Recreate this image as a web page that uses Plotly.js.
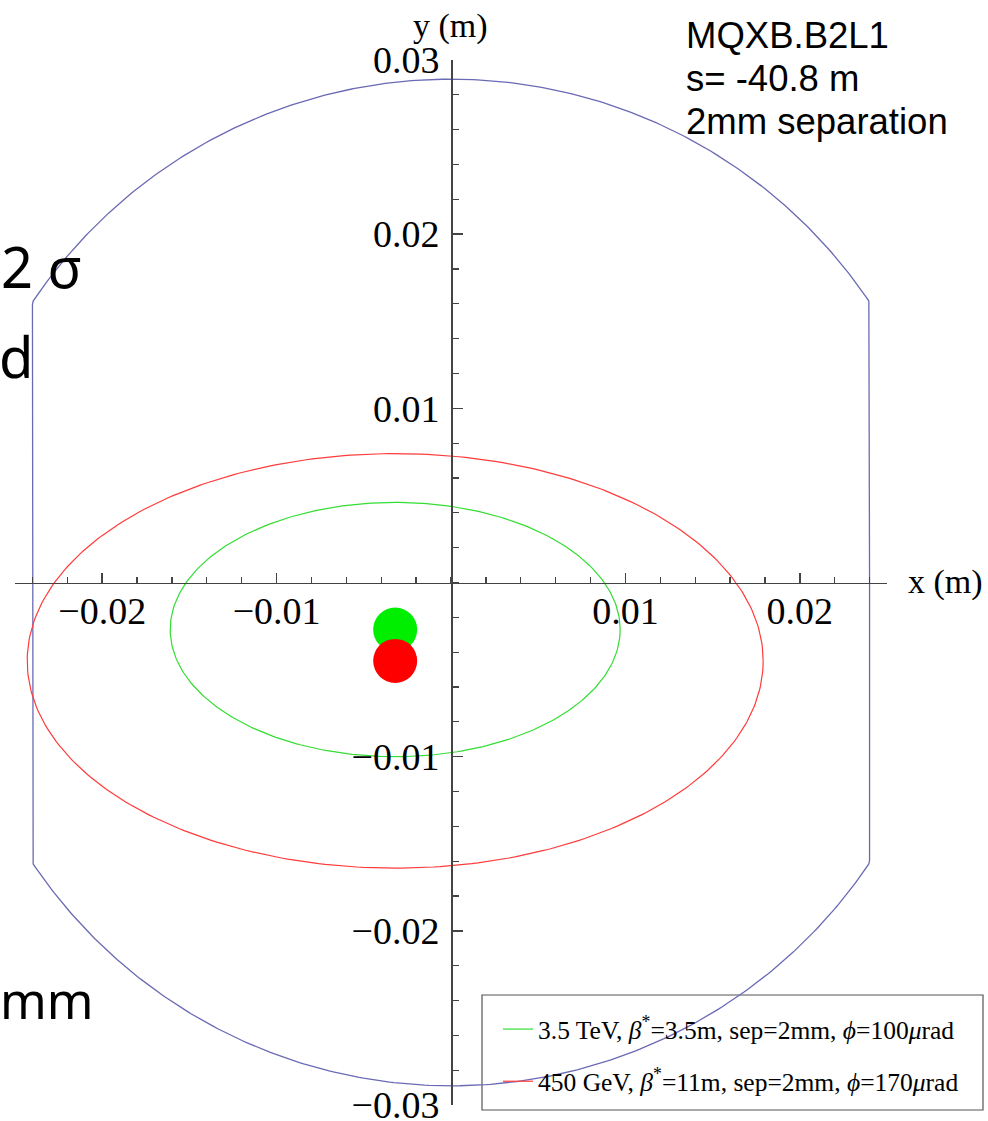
<!DOCTYPE html>
<html>
<head>
<meta charset="utf-8">
<script src="https://cdn.plot.ly/plotly-3.0.1.min.js"></script>
<style>html,body{margin:0;padding:0;background:#fff;overflow:hidden}#chart{width:988px;height:1121px}</style>
</head>
<body>
<div id="chart"></div>
<script>
// ---- data (metres) ----
const apertureRadius = 0.0289;      // circular part of the beam screen
const apertureHalfWidth = 0.024;    // flat vertical sides
const beamNames = ['3.5 TeV, <i>β</i><sup>*</sup>=3.5m, sep=2mm, <i>ϕ</i>=100<i>μ</i>rad',
                   '450 GeV, <i>β</i><sup>*</sup>=11m, sep=2mm, <i>ϕ</i>=170<i>μ</i>rad'];
const beamCentreX = [-0.0032, -0.0032];
const beamCentreY = [-0.0027, -0.0045];
const envelopeHalfX = [0.0129, 0.0211];
const envelopeHalfY = [0.0073, 0.0119];
const beamColors = ['#33dd33', '#ff3b3b'];
const dotColors = ['#00ee00', '#ff0000'];
const xTickVals = [-0.02, -0.01, 0.01, 0.02];
const xTickText = ['−0.02', '−0.01', '0.01', '0.02'];
const yTickVals = [-0.03, -0.02, -0.01, 0.01, 0.02, 0.03];
const yTickText = ['−0.03', '−0.02', '−0.01', '0.01', '0.02', '0.03'];
const infoLines = ['MQXB.B2L1', 's= -40.8 m', '2mm separation'];

// ---- geometry helpers ----
function apertureOutline(R, hw) {
  const xs = [], ys = [];
  for (let i = 0; i <= 720; i++) {
    const t = i / 720 * 2 * Math.PI;
    let x = R * Math.cos(t);
    x = Math.max(-hw, Math.min(hw, x));
    xs.push(x); ys.push(R * Math.sin(t));
  }
  return {xs, ys};
}
function ellipse(cx, cy, a, b) {
  const xs = [], ys = [];
  for (let i = 0; i <= 360; i++) {
    const t = i / 360 * 2 * Math.PI;
    xs.push(cx + a * Math.cos(t)); ys.push(cy + b * Math.sin(t));
  }
  return {xs, ys};
}

const traces = [];
const ap = apertureOutline(apertureRadius, apertureHalfWidth);
traces.push({x: ap.xs, y: ap.ys, mode: 'lines', line: {color: '#6a6ab4', width: 1.3},
  showlegend: false, hoverinfo: 'skip'});
for (let k = 0; k < 2; k++) {
  const e = ellipse(beamCentreX[k], beamCentreY[k], envelopeHalfX[k], envelopeHalfY[k]);
  traces.push({x: e.xs, y: e.ys, mode: 'lines', name: beamNames[k],
    line: {color: beamColors[k], width: 1.2}, legendgroup: 'g' + k});
}
for (let k = 0; k < 2; k++) {
  traces.push({x: [beamCentreX[k]], y: [beamCentreY[k]], mode: 'markers',
    marker: {color: dotColors[k], size: 44}, showlegend: false, hoverinfo: 'skip'});
}

const W = 988, H = 1121;
const px = v => v / W, py = v => (H - v) / H;
const serif = 'Liberation Serif, Times New Roman, serif';
const sans = 'Liberation Sans, Arial, sans-serif';
const slide = 'Noto Sans, Open Sans, sans-serif';

const annotations = [
  {text: 'y (m)', x: px(450), y: py(26), xanchor: 'center', yanchor: 'middle', font: {family: serif, size: 34, color: '#000'}},
  {text: 'x (m)', x: px(906), y: py(582), xanchor: 'left', yanchor: 'middle', font: {family: serif, size: 34, color: '#000'}},
  {text: '2 σ', x: px(84), y: py(266), xanchor: 'right', yanchor: 'middle', font: {family: slide, size: 56, color: '#000'}},
  {text: 'd', x: px(35), y: py(356), xanchor: 'right', yanchor: 'middle', font: {family: slide, size: 56, color: '#000'}},
  {text: 'mm', x: px(-2), y: py(1000), xanchor: 'left', yanchor: 'middle', font: {family: slide, size: 50, color: '#000'}}
];
const infoY = [35, 78, 121];
infoLines.forEach((t, i) => annotations.push({text: t, x: px(684), y: py(infoY[i]), xanchor: 'left', yanchor: 'middle',
  font: {family: sans, size: 36.5, color: '#000'}}));
annotations.forEach(a => { a.xref = 'paper'; a.yref = 'paper'; a.showarrow = false; });

const axisCommon = {
  showgrid: false, zeroline: false, showline: true, linecolor: '#444', linewidth: 1.5,
  ticks: 'inside', ticklen: 10, tickwidth: 1.5, tickcolor: '#444',
  tickmode: 'array', tickfont: {family: serif, size: 38, color: '#000'},
  ticklabeloverflow: 'allow',
  minor: {ticks: 'inside', ticklen: 6, tickwidth: 1.3, tickcolor: '#444', dtick: 0.002, tick0: 0},
  anchor: 'free', fixedrange: true
};

const layout = {
  width: W, height: H,
  margin: {l: 0, r: 0, t: 0, b: 0},
  paper_bgcolor: '#fff', plot_bgcolor: 'rgba(0,0,0,0)',
  xaxis: Object.assign({}, axisCommon, {domain: [px(15), px(887)], range: [-0.025, 0.025],
    tickvals: xTickVals, ticktext: xTickText, position: py(582.5), ticklabelstandoff: -6}),
  yaxis: Object.assign({}, axisCommon, {domain: [py(1105), py(60)], range: [-0.03, 0.03],
    tickvals: yTickVals, ticktext: yTickText, position: px(451), ticklabelstandoff: 4}),
  showlegend: true,
  legend: {x: px(498), y: py(1006), xanchor: 'left', yanchor: 'top', bgcolor: 'rgba(0,0,0,0)',
    borderwidth: 0, font: {family: serif, size: 25.5, color: '#000'}, itemwidth: 30,
    traceorder: 'grouped', tracegroupgap: 16},
  shapes: [{type: 'rect', xref: 'paper', yref: 'paper', x0: px(482), x1: px(983), y0: py(1110), y1: py(995),
    line: {color: '#555', width: 1.2}, fillcolor: 'rgba(255,255,255,1)', layer: 'below'}],
  annotations: annotations
};

Plotly.newPlot('chart', traces, layout, {displayModeBar: false, staticPlot: true});
</script>
</body>
</html>
